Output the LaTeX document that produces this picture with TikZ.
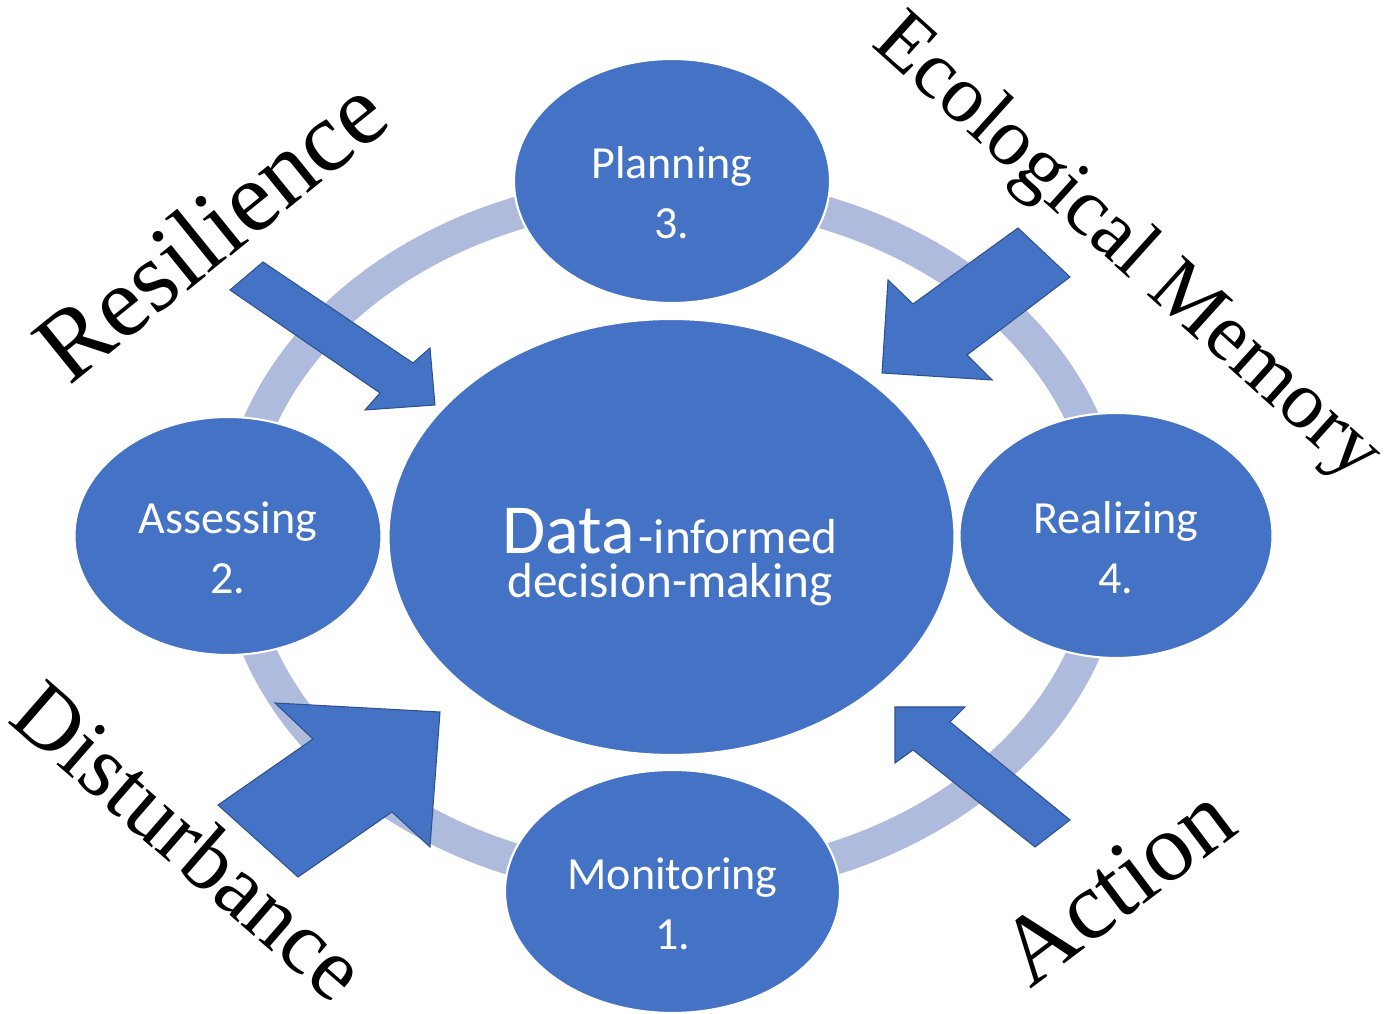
\documentclass[tikz,border=0pt]{standalone}
\usepackage{fontspec}
\setmainfont{Liberation Serif}
\newfontfamily\carlito{Carlito}
\usetikzlibrary{shapes.geometric}
\definecolor{azul}{RGB}{68,114,196}
\definecolor{azuloscuro}{RGB}{47,82,143}
\definecolor{anillo}{RGB}{174,187,221}

\begin{document}
\begin{tikzpicture}[
		elipse/.style={ellipse, fill=azul, draw=white, line width=0.6pt, inner sep=0pt},
		etiqueta/.style={text=white, align=center, font=\carlito\fontsize{13.1}{17.1}\selectfont},
		flecha/.style={fill=azul, draw=azuloscuro, line width=0.3pt, line join=miter},
		palabra/.style={font=\fontsize{#1}{#1}\selectfont, inner sep=0pt}
	]
		\useasboundingbox (0,0) rectangle (14,10.14);

		% Anillo del ciclo ---------------------------------------------
		\draw[anillo, line width=0.33cm] (6.72,4.77) ellipse (4.37 and 3.46);

		% Elipses del ciclo --------------------------------------------
		\node[elipse, minimum width=5.66cm, minimum height=4.36cm] (centro) at (6.715,4.77) {};
		\node[elipse, minimum width=3.16cm, minimum height=2.44cm] (plan) at (6.72,8.33) {}; % 3
		\node[elipse, minimum width=3.07cm, minimum height=2.38cm] (evalua) at (2.28,4.78) {}; % 2
		\node[elipse, minimum width=3.13cm, minimum height=2.45cm] (realiza) at (11.16,4.785) {}; % 4
		\node[elipse, minimum width=3.35cm, minimum height=2.43cm] (monitoreo) at (6.725,1.225) {}; % 1

		% Textos de las elipses
		\node[etiqueta] (plan-t) at ([yshift=-0.12cm]plan.center) {Planning\\3.};
		\node[etiqueta] (evalua-t) at ([yshift=-0.12cm]evalua.center) {Assessing\\2.};
		\node[etiqueta] (realiza-t) at ([yshift=-0.12cm]realiza.center) {Realizing\\4.};
		\node[etiqueta] (monitoreo-t) at ([yshift=-0.12cm]monitoreo.center) {Monitoring\\1.};
		\node[text=white, align=center, font=\carlito\fontsize{14}{12.5}\selectfont] (centro-t) at (6.70,4.57)
			{{\fontsize{20}{20}\selectfont Data}\kern1pt-informed\\decision-making};

		% Flechas de bloque --------------------------------------------
		\draw[flecha] (2.30,7.24) -- (3.80,6.21) -- (3.65,6.04) -- (4.35,6.09) -- (4.30,6.66) -- (4.13,6.51) -- (2.63,7.52) -- cycle; % resiliencia
		\draw[flecha] (10.18,7.86) -- (9.13,7.10) -- (8.88,7.34) -- (8.82,6.41) -- (9.92,6.34) -- (9.67,6.59) -- (10.70,7.37) -- cycle; % memoria
		\draw[flecha] (2.18,2.09) -- (3.13,2.75) -- (2.75,3.11) -- (4.40,3.02) -- (4.30,1.67) -- (3.92,2.02) -- (2.98,1.37) -- cycle; % perturbacion
		\draw[flecha] (10.70,1.94) -- (9.50,2.92) -- (9.65,3.07) -- (8.95,3.07) -- (8.95,2.51) -- (9.13,2.64) -- (10.35,1.67) -- cycle; % accion

		% Palabras giradas ---------------------------------------------
		\node[palabra=28.5, rotate=39] (resiliencia) at (2.10,7.85) {Resilience};
		\node[palabra=23.3, rotate=-42] (memoria) at (11.26,7.65) {Ecological Memory};
		\node[palabra=25.5, rotate=-41] (perturbacion) at (1.90,1.74) {Disturbance};
		\node[palabra=27.5, rotate=37] (accion) at (11.17,1.29) {Action};
	\end{tikzpicture}
\end{document}
